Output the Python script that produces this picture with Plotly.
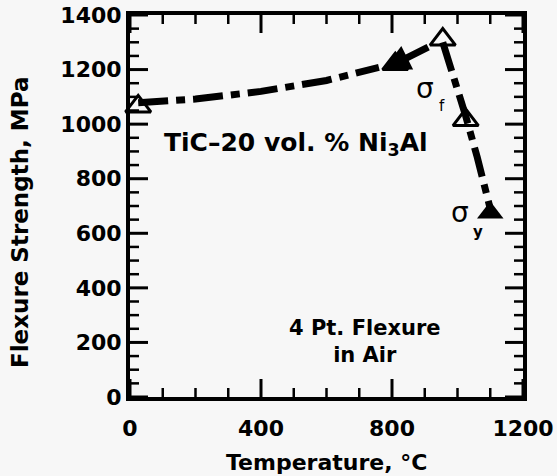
import plotly.graph_objects as go

# --- data ---
open_temp = [25, 810, 955, 1025]
open_strength = [1065, 1220, 1310, 1015]
filled_temp = [1100]
filled_strength = [675]
curve_a_temp = [25, 200, 400, 600, 760]
curve_a_strength = [1078, 1092, 1120, 1160, 1208]
curve_b_temp = [955, 990, 1025, 1060, 1100]
curve_b_strength = [1300, 1170, 1030, 880, 690]
arrow_tail = (915, 1285)
arrow_head = (775, 1200)
x_range = [0, 1200]
y_range = [0, 1400]
x_major, x_minor = 400, 100
y_major, y_minor = 200, 50

FONT = "DejaVu Sans"
BG = "#f7f7f7"
W, H = 557, 476
ML, MR, MT, MB = 130, 34, 15, 79

fig = go.Figure()

# tick marks pointing inward on all four sides, built from the tick spacing arrays
MAJ_LEN, MIN_LEN = 18, 9
ux = (x_range[1] - x_range[0]) / (W - ML - MR)   # data units per pixel (x)
uy = (y_range[1] - y_range[0]) / (H - MT - MB)   # data units per pixel (y)
for is_major, width in ((False, 2.5), (True, 3)):
    tx, ty = [], []
    L = MAJ_LEN if is_major else MIN_LEN
    for v in range(x_range[0], x_range[1] + 1, x_minor):
        if (v % x_major == 0) != is_major:
            continue
        tx += [v, v, None, v, v, None]
        ty += [y_range[0], y_range[0] + L * uy, None, y_range[1], y_range[1] - L * uy, None]
    for v in range(y_range[0], y_range[1] + 1, y_minor):
        if (v % y_major == 0) != is_major:
            continue
        tx += [x_range[0], x_range[0] + L * ux, None, x_range[1], x_range[1] - L * ux, None]
        ty += [v, v, None, v, v, None]
    fig.add_trace(go.Scatter(x=tx, y=ty, mode="lines", line=dict(color="black", width=width),
                             hoverinfo="skip", showlegend=False))

dash = "30px,8px,9px,8px"
fig.add_trace(go.Scatter(x=curve_a_temp, y=curve_a_strength, mode="lines",
                         line=dict(color="black", width=7, dash=dash), cliponaxis=False))
fig.add_trace(go.Scatter(x=curve_b_temp, y=curve_b_strength, mode="lines",
                         line=dict(color="black", width=7, dash=dash), cliponaxis=False))
fig.add_trace(go.Scatter(x=open_temp, y=open_strength, mode="markers",
                         marker=dict(symbol="triangle-up-open", size=22, color="black",
                                     line=dict(width=3, color="black")), cliponaxis=False))
fig.add_trace(go.Scatter(x=filled_temp, y=filled_strength, mode="markers",
                         marker=dict(symbol="triangle-up", size=23, color="black"), cliponaxis=False))

fig.add_annotation(x=arrow_head[0], y=arrow_head[1], ax=arrow_tail[0], ay=arrow_tail[1],
                   xref="x", yref="y", axref="x", ayref="y", text="", showarrow=True,
                   arrowhead=2, arrowwidth=7, arrowsize=0.75, arrowcolor="black")

def txt(x, y, s, size, bold=True, xanchor="center", **kw):
    fig.add_annotation(x=x, y=y, xref="x", yref="y", text=s, showarrow=False,
                       xanchor=xanchor, yanchor="middle",
                       font=dict(family=FONT, size=size, color="black",
                                 weight="bold" if bold else "normal"), **kw)

txt(98, 927, "TiC–20 vol. % Ni<sub>3</sub>Al", 25, xanchor="left")
txt(718, 202, "4 Pt. Flexure<br>in Air", 21)
txt(901, 1132, "σ", 28, bold=False)
txt(953, 1068, "f", 15, bold=False)
txt(1008, 678, "σ", 28, bold=False)
txt(1063, 605, "y", 15, bold=True)

fig.add_annotation(x=-0.28, y=0.458, xref="paper", yref="paper", text="Flexure Strength, MPa",
                   textangle=-90, showarrow=False, xanchor="center", yanchor="middle",
                   font=dict(family=FONT, size=23, color="black", weight="bold"))
fig.add_annotation(x=0.5, y=-0.172, xref="paper", yref="paper", text="Temperature, °C",
                   showarrow=False, xanchor="center", yanchor="middle",
                   font=dict(family=FONT, size=22, color="black", weight="bold"))

tf = dict(family=FONT, size=22, color="black", weight="bold")
base = dict(showgrid=False, zeroline=False, automargin=False, tickmode="linear", tick0=0,
            showline=True, linecolor="black", linewidth=4, mirror=True, ticks="", tickfont=tf)
fig.update_layout(
    xaxis=dict(base, range=x_range, dtick=x_major, ticklabelstandoff=9),
    yaxis=dict(base, range=y_range, dtick=y_major),
)

fig.update_layout(width=W, height=H, showlegend=False,
                  margin=dict(l=ML, r=MR, t=MT, b=MB),
                  paper_bgcolor=BG, plot_bgcolor=BG)
fig.write_html("out.html")
